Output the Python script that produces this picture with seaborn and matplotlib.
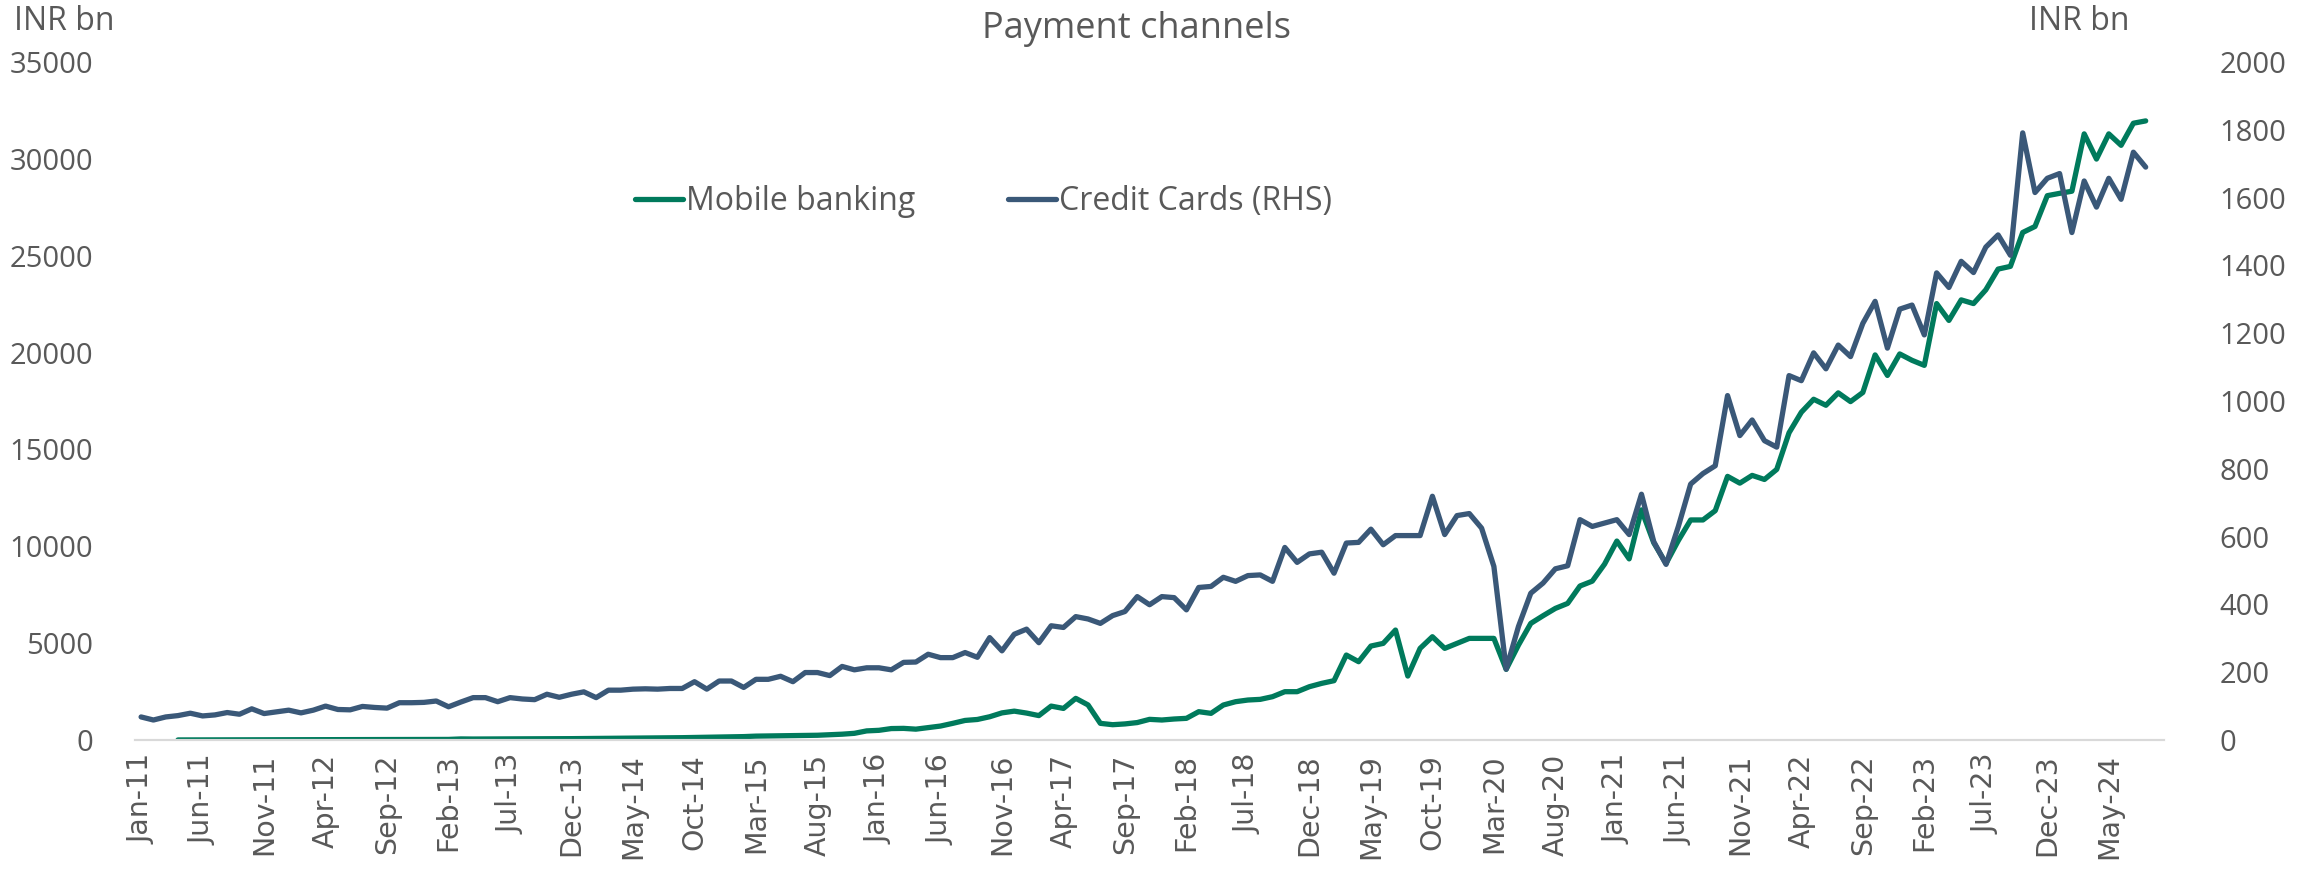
import numpy as np
import pandas as pd
import seaborn as sns
import matplotlib.pyplot as plt

sns.set_style("white")
plt.rcParams['font.family'] = ['Open Sans', 'DejaVu Sans']

# monthly, Jan-11 .. Aug-24 (axis runs one extra month to Sep-24)
months = pd.date_range("2011-01-01", periods=164, freq="MS").strftime("%b-%y").tolist()

# Mobile banking, INR bn (left axis); no data before Apr-11
mobile_banking = [np.nan, np.nan, np.nan,
    3, 4, 4, 5, 5, 6, 7, 8, 9, 10, 11, 13,
    14, 15, 16, 17, 18, 20, 21, 23, 25, 27, 30, 55,
    50, 52, 55, 58, 60, 62, 65, 68, 70, 75, 85, 90,
    95, 100, 105, 110, 115, 120, 130, 140, 150, 160, 175, 200,
    210, 220, 230, 235, 245, 270, 300, 345, 470, 500, 590, 600,
    560, 640, 720, 860, 1010, 1060, 1200, 1400, 1490, 1390, 1260, 1750,
    1630, 2150, 1810, 860, 790, 830, 900, 1066, 1032, 1084, 1118, 1462,
    1376, 1806, 1978, 2064, 2098, 2236, 2494, 2494, 2752, 2924, 3062, 4386,
    4042, 4850, 4988, 5676, 3302, 4730, 5332, 4730, 4988, 5246, 5246, 5246,
    3646, 4902, 6020, 6416, 6794, 7052, 7950, 8200, 9080, 10270, 9350, 11880,
    10180, 9110, 10300, 11360, 11360, 11840, 13610, 13260, 13660, 13450, 13970, 15860,
    16920, 17590, 17280, 17920, 17470, 17940, 19880, 18820, 19930, 19600, 19340, 22530,
    21660, 22720, 22530, 23240, 24310, 24450, 26200, 26510, 28100, 28220, 28330, 31290,
    29990, 31290, 30700, 31840, 31960]

# Credit cards, INR bn (right axis)
credit_cards = [
    68, 59, 68, 72, 79, 71, 74, 81, 76, 92, 78, 83,
    88, 80, 88, 100, 90, 89, 99, 96, 94, 110, 110, 111,
    115, 98, 112, 125, 125, 113, 125, 121, 119, 135, 126, 135,
    142, 125, 147, 147, 150, 151, 150, 152, 152, 172, 150, 174,
    174, 155, 179, 179, 188, 172, 199, 199, 190, 217, 207, 213,
    213, 207, 229, 230, 253, 243, 243, 258, 244, 302, 263, 312,
    327, 287, 337, 332, 364, 357, 344, 367, 379, 423, 399, 423,
    420, 384, 450, 453, 480, 468, 485, 487, 468, 568, 524, 549,
    554, 492, 581, 583, 622, 576, 603, 603, 603, 719, 606, 662,
    668, 625, 512, 209, 335, 433, 463, 505, 514, 650, 630, 640,
    650, 606, 725, 585, 518, 630, 755, 786, 809, 1016, 898, 944,
    883, 864, 1075, 1060, 1142, 1095, 1165, 1131, 1229, 1294, 1156, 1271,
    1283, 1195, 1378, 1335, 1412, 1379, 1454, 1490, 1430, 1791, 1615, 1657,
    1671, 1497, 1649, 1572, 1657, 1595, 1734, 1690]

df = pd.DataFrame({"idx": np.arange(len(months)), "month": months,
                   "Mobile banking": mobile_banking, "Credit Cards (RHS)": credit_cards})

green = "#007A5C"
blue = "#3A5878"
grey = "#595959"

fig = plt.figure(figsize=(23.03, 8.71), dpi=100)
ax = fig.add_axes([0.0586, 0.1504, 0.8811, 0.7784])
ax2 = ax.twinx()

sns.lineplot(data=df, x="idx", y="Mobile banking", ax=ax, color=green, linewidth=3.8,
             label="Mobile banking", legend=False)
sns.lineplot(data=df, x="idx", y="Credit Cards (RHS)", ax=ax2, color=blue, linewidth=3.8,
             label="Credit Cards (RHS)", legend=False)

ax.set_xlim(-0.5, 164.5)
ax.set_ylim(0, 35000)
ax2.set_ylim(0, 2000)
ax.set_yticks(np.arange(0, 35001, 5000))
ax2.set_yticks(np.arange(0, 2001, 200))

lab_pos = np.arange(0, 164, 5)
ax.set_xticks(lab_pos)
ax.set_xticklabels([months[i] for i in lab_pos], rotation=90, fontsize=20.5,
                   color=grey, family="DejaVu Sans")
ax.set_xticks(np.arange(-0.5, 165, 5), minor=True)
ax.tick_params(axis="x", which="major", length=0, pad=10)
ax.tick_params(axis="x", which="minor", length=11, width=1.5, color="#d9d9d9", direction="out")
ax.tick_params(axis="y", length=0, labelsize=21, labelcolor=grey, pad=30)
ax2.tick_params(axis="y", length=0, labelsize=21, labelcolor=grey, pad=40)
ax.set_xlabel("")
ax.set_ylabel("")
ax2.set_ylabel("")

for a in (ax, ax2):
    for s in ("top", "left", "right"):
        a.spines[s].set_visible(False)
    a.spines["bottom"].set_color("#d9d9d9")
    a.spines["bottom"].set_linewidth(1.5)

handles = ax.get_lines()[:1] + ax2.get_lines()[:1]
ax.legend(handles, ["Mobile banking", "Credit Cards (RHS)"], ncol=2, frameon=False,
          fontsize=23, labelcolor=grey, handlelength=1.5, handletextpad=0.1,
          columnspacing=2.9, loc="center", bbox_to_anchor=(0.427, 0.769),
          bbox_transform=fig.transFigure)

fig.text(0.4935, 0.967, "Payment channels", ha="center", va="center", fontsize=26, color=grey)
fig.text(0.006, 0.975, "INR bn", ha="left", va="center", fontsize=23, color=grey)
fig.text(0.881, 0.975, "INR bn", ha="left", va="center", fontsize=23, color=grey)

fig.savefig("out.png", dpi=100)
